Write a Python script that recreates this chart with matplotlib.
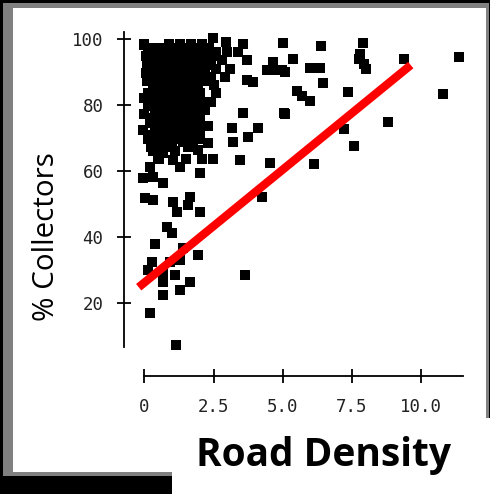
import matplotlib
matplotlib.use("Agg")
import matplotlib.pyplot as plt
from matplotlib.patches import Rectangle

# ---------------- data ----------------
road_density = [
    # sparse points right side
    6.37, 7.88, 7.75, 7.95, 8.0, 7.8, 9.39, 11.37, 5.38, 5.98, 6.34, 4.96, 5.08,
    6.44, 7.34, 5.50, 5.68, 5.98, 10.77, 5.08, 8.79, 7.21, 7.58, 6.14,
    # mid points
    0.0, 0.33, 2.49, 2.95, 3.55, 5.0, 4.66, 4.78, 4.42, 3.70, 3.94, 3.57, 5.05,
    4.12, 3.75, 3.15, 3.21, 3.45, 4.54, 2.49, 2.01, 1.41, 1.77, 1.95, 1.59,
    1.29, 1.05, 0.21, -0.04, 0.32, 0.69, 0.03, 0.32, 1.05, 1.17, 1.65, 1.59,
    2.01, 4.24, -0.04, 0.21, 0.51, 0.69,
    # lower points
    0.81, 0.99, 0.39, 1.41, 1.95, 0.27, 0.14, 0.93, 1.29, 0.69, 1.11, 0.69,
    1.65, 1.29, 0.69, 3.64, 0.21, 1.14,
    # dense cluster
    0.0, 0.9, 1.3, 1.7, 2.1,
    0.3, 0.6, 1.0, 1.4, 1.8, 2.2, 2.6, 3.0, 3.4,
    0.2, 0.5, 0.85, 1.2, 1.55, 1.9, 2.4, 2.8, 3.7,
    0.35, 0.7, 1.05, 1.4, 1.75, 2.1, 2.6, 3.1,
    0.2, 0.75, 1.05, 1.65, 2.0, 2.4, 2.9,
    0.3, 0.6, 0.95, 1.3, 1.6, 1.95, 2.5,
    0.15, 0.5, 0.85, 1.2, 1.45, 2.0, 2.6,
    0.3, 0.65, 1.0, 1.35, 1.7, 2.1, 2.4,
    0.45, 1.1, 1.4, 1.8, 2.2,
    0.25, 0.6, 0.95, 1.3, 1.65, 2.0,
    0.4, 0.75, 1.1, 1.45, 1.8, 2.3,
    0.25, 0.6, 0.95, 1.3, 1.7,
    0.45, 0.8, 1.0, 2.3,
    0.3, 0.65, 1.1,
    0.55, 1.5, 2.1,
    # dense cluster, in-between rows
    0.15, 0.45, 0.75, 1.15, 1.55, 1.95, 2.35,
    0.05, 0.4, 0.7, 1.05, 1.35, 1.7, 2.05, 2.5,
    0.1, 0.5, 0.9, 1.25, 1.6, 1.95, 2.3,
    0.05, 0.4, 0.9, 1.2, 1.5, 1.85, 2.2,
    0.1, 0.45, 0.8, 1.15, 1.45, 1.8, 2.2,
    0.35, 0.7, 1.05, 1.4, 1.75,
    0.0, 0.45, 0.8, 1.1, 1.55, 1.9,
    0.15, 0.6, 0.9, 1.25, 1.6, 2.0,
    0.0, 0.4, 0.8, 1.15, 1.5, 1.85,
    0.5, 0.85, 1.2, 1.6, 1.95,
    0.45, 0.8, 1.15, 1.5, 2.0,
    0.15, 0.55, 1.15, 1.5, 2.0,
    0.25, 0.55, 0.85,
]
pct_collectors = [
    98.0, 98.7, 94.0, 92.5, 91.0, 95.5, 93.9, 94.6, 93.9, 91.3, 91.3, 90.6, 90.1,
    86.8, 84.0, 84.2, 82.7, 81.3, 83.3, 77.4, 74.8, 72.7, 67.5, 62.2,
    98.2, 96.7, 100.2, 99.2, 98.5, 98.7, 93.1, 90.6, 90.6, 87.6, 87.1, 77.5, 77.5,
    72.9, 70.2, 72.9, 68.9, 63.3, 62.3, 63.6, 59.5, 68.9, 67.9, 66.4, 67.4,
    61.3, 63.3, 61.3, 57.8, 58.3, 56.3, 51.7, 51.2, 50.7, 47.7, 52.2, 49.7,
    47.7, 52.2, 72.4, 74.5, 64.3, 65.4,
    43.1, 41.1, 37.8, 36.6, 34.5, 32.5, 30.0, 32.5, 33.0, 29.5, 28.5, 26.5,
    26.5, 23.9, 22.4, 28.5, 16.9, 7.3,
    98.5, 98.5, 98.5, 98.5, 98.5,
    96, 96, 96, 96, 96, 96, 96, 96, 96,
    93.5, 93.5, 93.5, 93.5, 93.5, 93.5, 93.5, 93.5, 93.5,
    91, 91, 91, 91, 91, 91, 91, 91,
    88.5, 88.5, 88.5, 88.5, 88.5, 88.5, 88.5,
    86, 86, 86, 86, 86, 86, 86,
    83.5, 83.5, 83.5, 83.5, 83.5, 83.5, 83.5,
    81, 81, 81, 81, 81, 81, 81,
    78.5, 78.5, 78.5, 78.5, 78.5,
    76, 76, 76, 76, 76, 76,
    73.5, 73.5, 73.5, 73.5, 73.5, 73.5,
    71, 71, 71, 71, 71,
    68.5, 68.5, 68.5, 68.5,
    66, 66, 66,
    63.5, 63.5, 63.5,
    97.2, 97.2, 97.2, 97.2, 97.2, 97.2, 97.2,
    94.7, 94.7, 94.7, 94.7, 94.7, 94.7, 94.7, 94.7,
    92.2, 92.2, 92.2, 92.2, 92.2, 92.2, 92.2,
    89.7, 89.7, 89.7, 89.7, 89.7, 89.7, 89.7,
    87.2, 87.2, 87.2, 87.2, 87.2, 87.2, 87.2,
    84.7, 84.7, 84.7, 84.7, 84.7,
    82.2, 82.2, 82.2, 82.2, 82.2, 82.2,
    79.7, 79.7, 79.7, 79.7, 79.7, 79.7,
    77.2, 77.2, 77.2, 77.2, 77.2, 77.2,
    74.7, 74.7, 74.7, 74.7, 74.7,
    72.2, 72.2, 72.2, 72.2, 72.2,
    69.7, 69.7, 69.7, 69.7, 69.7,
    67.2, 67.2, 67.2,
]
fit_x = [-0.2, 9.62]
fit_y = [24.8, 92.1]

x_ticks = [0, 2.5, 5.0, 7.5, 10.0]
x_tick_labels = ["0", "2.5", "5.0", "7.5", "10.0"]
y_ticks = [20, 40, 60, 80, 100]
y_tick_labels = ["20", "40", "60", "80", "100"]

W, H = 490, 494
fig = plt.figure(figsize=(W / 100, H / 100), dpi=100, facecolor="black")

def px_rect(x0, y0, x1, y1, color):
    fig.patches.append(Rectangle((x0 / W, 1 - y1 / H), (x1 - x0) / W, (y1 - y0) / H,
                                 transform=fig.transFigure, facecolor=color,
                                 edgecolor="none", zorder=-10))

px_rect(3, 3, 489, 476, "#808080")
px_rect(13, 8, 486, 472, "white")
px_rect(172, 418, 490, 494, "white")

# axes placement (pixels)
L, R, T, B = 124.3, 476.7, 25.8, 376.0
ax = fig.add_axes([L / W, 1 - B / H, (R - L) / W, (B - T) / H])
ax.set_zorder(5)
ax.set_facecolor("none")
ax.set_xlim(-0.72, 12.0)
ax.set_ylim(-2.1, 104.0)

ax.plot(road_density, pct_collectors, linestyle="none", marker="s", ms=7.6,
        mfc="black", mec="black", mew=0)
ax.plot(fit_x, fit_y, color="#ff0000", lw=6, solid_capstyle="butt")

for s in ["top", "right"]:
    ax.spines[s].set_visible(False)
ax.spines["left"].set_bounds(6.7, 102)
ax.spines["bottom"].set_bounds(0, 11.5)
ax.spines["left"].set_linewidth(1.3)
ax.spines["bottom"].set_linewidth(1.3)

ax.set_xticks(x_ticks)
ax.set_xticklabels(x_tick_labels)
ax.set_yticks(y_ticks)
ax.set_yticklabels(y_tick_labels)
ax.tick_params(direction="inout", length=10, width=1.3, color="black",
               labelsize=12.5, labelcolor="#222222")
ax.tick_params(axis="x", pad=11)
ax.tick_params(axis="y", pad=10)
for lab in ax.get_xticklabels() + ax.get_yticklabels():
    lab.set_family("DejaVu Sans Mono")

fig.text(46 / W, 1 - 237 / H, "% Collectors", rotation=90, ha="center", va="center",
         family="Open Sans", fontsize=21.3, color="black", zorder=6)
fig.text(323 / W, 1 - 455 / H, "Road Density", ha="center", va="center",
         family="Open Sans", fontweight="bold", fontsize=28, color="black", zorder=6)

fig.savefig("out.png", dpi=100, facecolor="black")
